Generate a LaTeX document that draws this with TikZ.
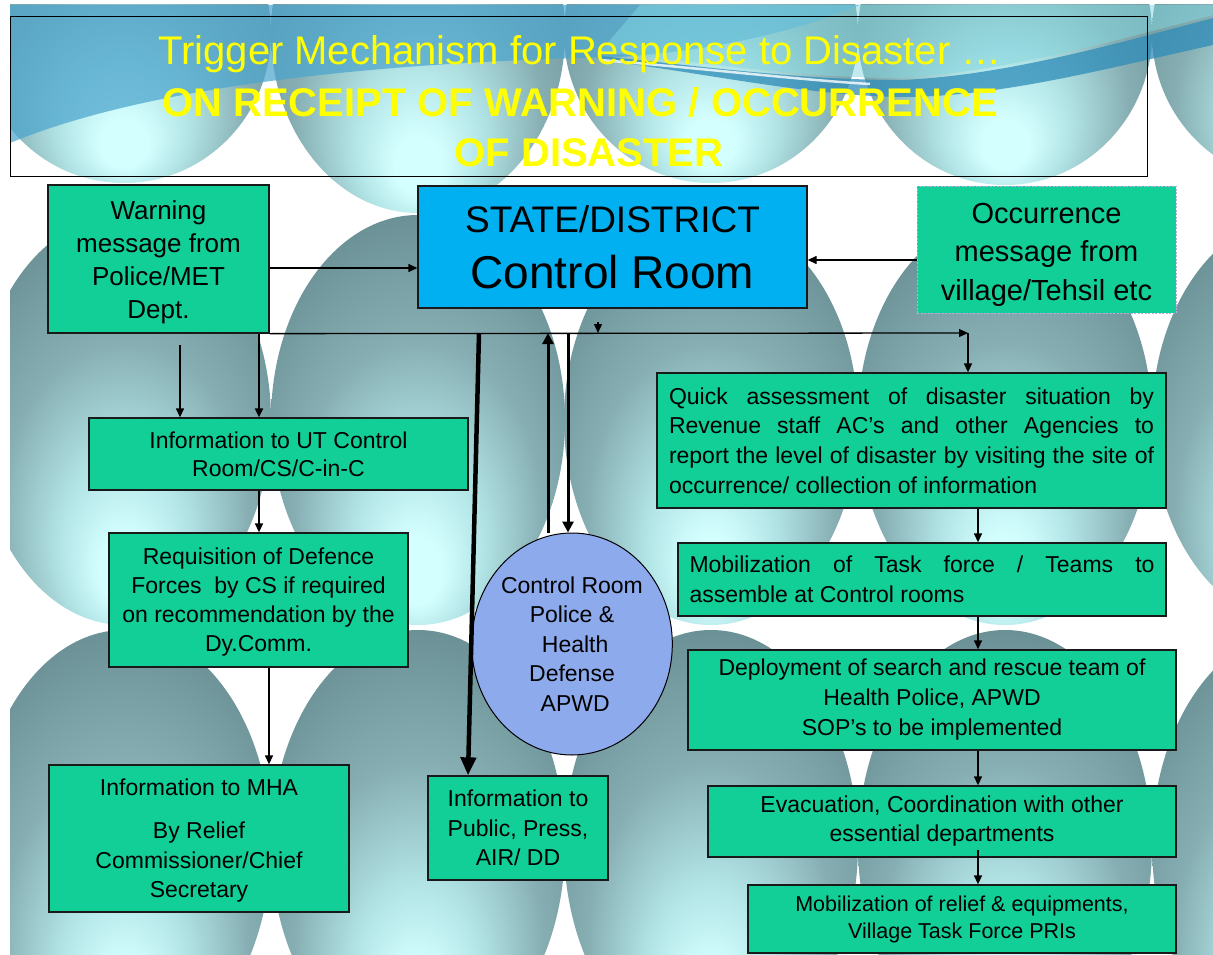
\documentclass[tikz,border=0pt]{standalone}
\usepackage{fontspec}
\setmainfont{Liberation Sans}
\usetikzlibrary{shapes.geometric,arrows.meta,calc}
\definecolor{boxgreen}{RGB}{18,207,152}
\definecolor{stateblue}{RGB}{0,176,240}
\definecolor{ellblue}{RGB}{141,170,236}
\definecolor{sphc}{RGB}{212,255,255}
\definecolor{sphb}{RGB}{178,228,230}
\definecolor{sphm}{RGB}{135,175,179}
\definecolor{sphd}{RGB}{105,143,148}
\definecolor{sphe}{RGB}{80,116,122}
\definecolor{titleyellow}{RGB}{255,255,0}
\definecolor{wavea}{RGB}{75,165,205}
\definecolor{waveb}{RGB}{45,140,185}
\definecolor{wavec}{RGB}{130,215,225}
\definecolor{occborder}{RGB}{190,170,230}
\pgfdeclareradialshading{sph}{\pgfpoint{0bp}{-20bp}}{color(0bp)=(sphc); color(4bp)=(sphc); color(11bp)=(sphb); color(21bp)=(sphm); color(33bp)=(sphd); color(46bp)=(sphe); color(50bp)=(sphe)}
\newcommand\fsz[2]{\fontsize{#1}{#2}\selectfont}
\tikzset{
  box/.style={draw=black!90, line width=1.3pt, fill=boxgreen, inner sep=0pt, align=center, text=black},
  arr/.style={-{Triangle[length=9pt,width=8pt]}, line width=1.3pt},
  medarr/.style={-{Triangle[length=11pt,width=11pt]}, line width=3pt},
  thickarr/.style={-{Triangle[length=18pt,width=15pt]}, line width=4.5pt},
  ttl/.style={text=titleyellow, anchor=base, inner sep=0pt},
  sphere/.style={shading=sph}
}
\begin{document}
\begin{tikzpicture}[x=1pt,y=-1pt]
\useasboundingbox (0,0) rectangle (1213,955);
\fill[white] (0,0) rectangle (1213,955);
% background spheres
\begin{scope}
\clip (10,5) rectangle (1213,955);
\foreach \cx/\ry in {124/150,418/180,711/150,1005/152,1299/150}{
  \shade[sphere] (\cx,33) ellipse [x radius=147pt, y radius=\ry pt];
}
\foreach \cx in {124,418,711,1005,1299}{
  \shade[sphere] (\cx,420) ellipse [x radius=147pt, y radius=205pt];
  \shade[sphere] (\cx,845) ellipse [x radius=147pt, y radius=215pt];
}
% top wave
\fill[wavea, opacity=.72] (10,5) -- (10,143) .. controls (150,85) and (380,62) .. (620,57) .. controls (720,50) and (800,30) .. (860,5) -- cycle;
\fill[wavec, opacity=.5] (640,5) -- (1213,5) -- (1213,15) .. controls (1100,45) and (1000,72) .. (900,78) .. controls (800,78) and (700,62) .. (600,52) -- cycle;
\fill[waveb, opacity=.75] (600,60) .. controls (700,72) and (800,95) .. (900,97) .. controls (1000,97) and (1100,70) .. (1213,45) -- (1213,18) .. controls (1100,48) and (1000,76) .. (900,80) .. controls (800,80) and (700,66) .. (600,56) -- cycle;
\draw[white, opacity=.8, line width=2.5pt] (600,60) .. controls (700,68) and (800,80) .. (870,84);
\end{scope}
% title
\node[draw=black, line width=1pt, minimum width=1137, minimum height=159, inner sep=0pt] (titlebox) at (578.5,96.5) {};
\node[ttl, font=\fsz{40}{48}] (t1) at (580,65) {Trigger Mechanism for Response to Disaster …};
\node[ttl, font=\fsz{40}{48}\bfseries] (t2) at (580,117) {ON RECEIPT OF WARNING / OCCURRENCE};
\node[ttl, font=\fsz{40}{48}\bfseries] (t3) at (589,167) {OF DISASTER};
% boxes
\node[box, minimum width=221, minimum height=148, font=\fsz{26}{33}] (warn) at (158.5,259) {\rule{0pt}{25pt}Warning\\message from\\Police/MET\\Dept.};
\node[box, fill=stateblue, minimum width=389, minimum height=122, font=\fsz{46}{56}] (state) at (612.5,247) {{\fsz{37}{56}STATE/DISTRICT}\\Control Room};
\node[box, draw=occborder, line width=0.8pt, dash pattern=on 2pt off 1.5pt, minimum width=259, minimum height=127, font=\fsz{29}{38.5}] (occ) at (1046.5,249.5) {\rule{0pt}{31pt}Occurrence\\message from\\village/Tehsil etc};
\node[box, minimum width=379, minimum height=72, font=\fsz{23}{28}] (ut) at (278.5,454) {Information to UT Control\\Room/CS/C-in-C};
\node[box, minimum width=299, minimum height=134, font=\fsz{23}{29}] (req) at (258.5,600) {\rule{0pt}{20pt}Requisition of Defence\\Forces\ \ by CS if required\\on recommendation by the\\Dy.Comm.};
\node[box, minimum width=300, minimum height=147, font=\fsz{23}{29.5}] (mha) at (199,838.5) {\rule{0pt}{21pt}Information to MHA\\[14pt]By Relief\\Commissioner/Chief\\Secretary};
\node[draw=black, line width=1pt, fill=ellblue, ellipse, inner sep=0pt, minimum width=188, minimum height=222, align=center, font=\fsz{23}{29.5}] (ell) at (572,644) {Control Room\\Police \&\\\ Health\\Defense\\\ APWD};
\node[box, minimum width=180, minimum height=104, font=\fsz{23}{29.5}] (pub) at (518,828) {Information to\\Public, Press,\\AIR/ DD};
\node[box, minimum width=509, minimum height=135, align=left, font=\fsz{23}{29.7}] (quick) at (911.5,440.5) {\makebox[485pt][s]{Quick assessment of disaster situation by}\\\makebox[485pt][s]{Revenue staff AC’s and other Agencies to}\\\makebox[485pt][s]{report the level of disaster by visiting the site of}\\\makebox[485pt][l]{occurrence/ collection of information}};
\node[box, minimum width=488, minimum height=73, align=left, font=\fsz{23}{30}] (mob) at (922,579.5) {\makebox[465pt][s]{Mobilization of Task force / Teams to}\\\makebox[465pt][l]{assemble at Control rooms}};
\node[box, minimum width=488, minimum height=100, font=\fsz{23}{30}] (dep) at (932,700) {Deployment of search and rescue team of\\Health Police, APWD\\SOP’s to be implemented};
\node[box, minimum width=468, minimum height=71, font=\fsz{23}{29}] (evac) at (942,821.5) {Evacuation, Coordination with other\\essential departments};
\node[box, minimum width=428, minimum height=68, font=\fsz{21.5}{27}] (relief) at (962,919) {Mobilization of relief \& equipments,\\Village Task Force PRIs};
% helper coordinates
\coordinate (hj) at (968,333);
\coordinate (c180) at (180,0);
\coordinate (c259) at (259,0);
\coordinate (c269) at (269,0);
\coordinate (c468) at (468,0);
\coordinate (c479) at (479,0);
\coordinate (c548) at (548,0);
\coordinate (c568) at (568,0);
\coordinate (c598) at (598,0);
\coordinate (c978) at (978,0);
\coordinate (w1) at (180,345);
\coordinate (ts) at (598,322);
% connectors
\draw[arr] (warn.east |- 0,268) -- (state.west |- 0,268);
\draw[arr] (occ.west |- 0,260) -- (state.east |- 0,260);
\draw[arr] (warn.south east) -- (hj);
\draw[arr] (hj) -- (hj |- quick.north);
\draw[arr] (ts) -- (hj -| c598);
\draw[arr] (w1) -- (ut.north -| c180);
\draw[arr, line width=2pt] (warn.south -| c259) -- (ut.north -| c259);
\draw[arr, line width=1.6pt] (ut.south -| c259) -- (req.north -| c259);
\draw[arr] (req.south -| c269) -- (mha.north -| c269);
\draw[thickarr] (hj -| c479) -- (pub.north -| c468);
\draw[medarr] (ell.north -| c548) -- (hj -| c548);
\draw[medarr] (hj -| c568) -- (ell.north -| c568);
\draw[arr] (quick.south -| c978) -- (mob.north -| c978);
\draw[arr] (mob.south -| c978) -- (dep.north -| c978);
\draw[arr] (dep.south -| c978) -- (evac.north -| c978);
\draw[arr] ($(evac.south -| c978)+(0,-8)$) -- (relief.north -| c978);
\end{tikzpicture}
\end{document}
